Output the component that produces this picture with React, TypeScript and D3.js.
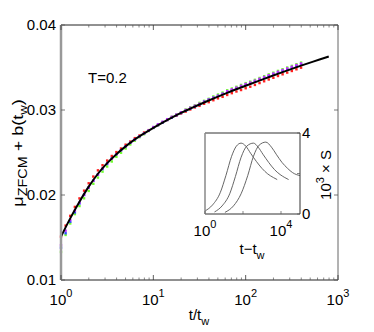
import React from "react";
import * as d3 from "d3";

// ---- main panel data ----
const T_FIT = [1, 1.259, 1.585, 1.995, 2.512, 3.162, 3.981, 5.012, 6.31, 7.943, 10, 12.59, 15.85, 19.95, 25.12, 39.81, 63.1, 100, 158.5, 251.2, 398.1, 631.0, 794.3];
const V_FIT = [0.0151, 0.01725, 0.0192, 0.02098, 0.0225, 0.02375, 0.0248, 0.02572, 0.02654, 0.02725, 0.0279, 0.02852, 0.0291, 0.02965, 0.03016, 0.03112, 0.03202, 0.03286, 0.03366, 0.03446, 0.03522, 0.03594, 0.0363];

const T_SIM = [1, 1.122, 1.259, 1.413, 1.585, 1.778, 1.995, 2.239, 2.512, 2.818, 3.162, 3.548, 3.981, 4.467, 5.012, 5.623, 6.31, 7.079, 7.943, 8.913, 10, 11.22, 12.59, 14.13, 15.85, 17.78, 19.95, 22.39, 25.12, 28.18, 31.62, 35.48, 39.81, 44.67, 50.12, 56.23, 63.1, 70.79, 79.43, 89.13, 100, 112.2, 125.9, 141.3, 158.5, 177.8, 199.5, 223.9, 251.2, 281.8, 316.2, 354.8, 398.1];

const RED = [0.0151, 0.0164, 0.01755, 0.0186, 0.0196, 0.02051, 0.02138, 0.02217, 0.0229, 0.0235, 0.02405, 0.02459, 0.02505, 0.02547, 0.02592, 0.02629, 0.02669, 0.027, 0.02735, 0.02763, 0.0279, 0.02822, 0.02852, 0.02882, 0.0291, 0.02932, 0.02959, 0.02981, 0.03006, 0.0303, 0.03049, 0.03073, 0.03092, 0.03115, 0.03137, 0.03155, 0.03177, 0.03198, 0.03218, 0.03235, 0.03256, 0.03274, 0.03295, 0.03317, 0.03338, 0.03359, 0.03379, 0.034, 0.0342, 0.0344, 0.03459, 0.03479, 0.03498];
const GREEN = [0.0133, 0.0153, 0.01665, 0.01775, 0.0187, 0.01961, 0.02048, 0.02132, 0.02205, 0.02275, 0.02335, 0.02394, 0.0245, 0.02497, 0.02547, 0.02594, 0.02639, 0.0268, 0.02715, 0.02753, 0.0279, 0.02822, 0.02857, 0.02887, 0.0292, 0.02947, 0.02974, 0.03006, 0.03031, 0.03055, 0.03084, 0.03108, 0.03132, 0.0316, 0.03182, 0.03205, 0.03232, 0.03253, 0.03273, 0.03295, 0.03316, 0.03334, 0.03355, 0.03377, 0.03398, 0.03419, 0.03439, 0.0346, 0.0348, 0.035, 0.03519, 0.03539, 0.03558];
const BLUE = [0.0138, 0.0155, 0.01685, 0.01795, 0.019, 0.02001, 0.02088, 0.02167, 0.0224, 0.02305, 0.02365, 0.02429, 0.0248, 0.02527, 0.02572, 0.02614, 0.02654, 0.0269, 0.02725, 0.02758, 0.0279, 0.02822, 0.02852, 0.02882, 0.0291, 0.02937, 0.02964, 0.02991, 0.03016, 0.0304, 0.03064, 0.03098, 0.03122, 0.03145, 0.03167, 0.0319, 0.03212, 0.03233, 0.03253, 0.03275, 0.03296, 0.03314, 0.03335, 0.03357, 0.03378, 0.03399, 0.03419, 0.0344, 0.0346, 0.0348, 0.03499, 0.03519, 0.03538];
const PURPLE = [0.0141, 0.0158, 0.01705, 0.01815, 0.0191, 0.02001, 0.02088, 0.02167, 0.0224, 0.02315, 0.02375, 0.02429, 0.0248, 0.02527, 0.02572, 0.02614, 0.02654, 0.0269, 0.02725, 0.02758, 0.028, 0.02832, 0.02862, 0.02892, 0.0292, 0.02947, 0.02974, 0.03001, 0.03026, 0.0305, 0.03074, 0.03098, 0.03122, 0.03145, 0.03167, 0.0319, 0.03222, 0.03243, 0.03263, 0.03285, 0.03306, 0.03324, 0.03345, 0.03367, 0.03388, 0.03409, 0.03429, 0.0345, 0.0347, 0.0349, 0.03509, 0.03529, 0.03548];

const SERIES = [
  { values: RED, color: "#ff2020" },
  { values: GREEN, color: "#70ff30" },
  { values: BLUE, color: "#3050ff" },
  { values: PURPLE, color: "#c030ff" },
];

const X_TICKS = [1, 10, 100, 1000];
const X_EXP = ["0", "1", "2", "3"];
const Y_TICKS = [0.01, 0.02, 0.03, 0.04];
const Y_LABELS = ["0.01", "0.02", "0.03", "0.04"];

// ---- inset data ----
const IA_T = [1, 2.51, 6.31, 12.6, 25.1, 44.7, 79.4, 141, 251, 501, 1000, 1995, 3981, 6310];
const IA_V = [0.15, 0.45, 1.05, 1.9, 2.85, 3.35, 3.5, 3.35, 3.0, 2.6, 2.25, 1.98, 1.8, 1.7];
const IB_T = [3.16, 7.94, 20.0, 39.8, 79.4, 158, 355, 631, 1122, 2239, 4467, 8913, 15850, 25120];
const IB_V = [0.1, 0.4, 1.0, 1.85, 2.8, 3.35, 3.5, 3.3, 2.95, 2.55, 2.2, 1.95, 1.8, 1.7];
const IC_T = [11.2, 31.6, 79.4, 178, 355, 708, 1585, 3162, 5623, 11220, 22390, 39810, 63100, 100000];
const IC_V = [0.08, 0.4, 1.0, 1.9, 2.85, 3.4, 3.55, 3.3, 2.95, 2.55, 2.25, 2.05, 1.95, 1.9];
const INSET_CURVES = [
  { t: IA_T, v: IA_V },
  { t: IB_T, v: IB_V },
  { t: IC_T, v: IC_V },
];
const INSET_X_LABELS = [1, 10000];
const INSET_X_EXP = ["0", "4"];
const INSET_Y_TICKS = [0, 2, 4];
const INSET_Y_LABELS = [0, 4];

const FONT = "'Liberation Sans', Arial, Helvetica, sans-serif";

export default function App() {
  const L = 61, R = 338, T = 25, B = 280;
  const x = d3.scaleLog().domain([1, 1000]).range([L, R]);
  const y = d3.scaleLinear().domain([0.01, 0.04]).range([B, T]);

  const iL = 205, iR = 300, iT = 133, iB = 214;
  const xi = d3.scaleLog().domain([1, 1e5]).range([iL, iR]);
  const yi = d3.scaleLinear().domain([0, 4]).range([iB, iT]);

  const fitLine = d3
    .line<number>()
    .x((_, i) => x(T_FIT[i]))
    .y((d) => y(d))
    .curve(d3.curveMonotoneX);

  const insetLine = (tt: number[]) =>
    d3
      .line<number>()
      .x((_, i) => xi(tt[i]))
      .y((d) => yi(d))
      .curve(d3.curveMonotoneX);

  const minor = x.ticks().filter((t) => !X_TICKS.includes(t));

  return (
    <svg
      width={374}
      height={332}
      style={{ position: "absolute", left: 0, top: 0, background: "#fff" }}
      fontFamily={FONT}
    >
      <rect x={0} y={0} width={374} height={332} fill="#fff" />

      {/* markers */}
      {SERIES.map((s, si) => (
        <g key={si} fill={s.color}>
          {s.values.map((v, i) => (
            <rect key={i} x={x(T_SIM[i]) - 1.2} y={y(v) - 1.2} width={2.4} height={2.4} />
          ))}
        </g>
      ))}

      {/* fit curve */}
      <path d={fitLine(V_FIT) || ""} fill="none" stroke="#000" strokeWidth={2} />

      {/* frame */}
      <line x1={L} x2={R} y1={T} y2={T} stroke="#222" strokeWidth={1} />
      <line x1={L} x2={R} y1={B} y2={B} stroke="#222" strokeWidth={1} />
      <line x1={L} x2={L} y1={T} y2={B} stroke="#999" strokeWidth={2.5} />
      <line x1={R} x2={R} y1={T} y2={B} stroke="#666" strokeWidth={1} />

      {/* x ticks */}
      {X_TICKS.map((t) => (
        <g key={"xt" + t} stroke="#333" strokeWidth={0.8}>
          <line x1={x(t)} x2={x(t)} y1={B} y2={B - 5} />
          <line x1={x(t)} x2={x(t)} y1={T} y2={T + 5} />
        </g>
      ))}
      {minor.map((t) => (
        <g key={"xm" + t} stroke="#555" strokeWidth={0.7}>
          <line x1={x(t)} x2={x(t)} y1={B} y2={B - 2.5} />
          <line x1={x(t)} x2={x(t)} y1={T} y2={T + 2.5} />
        </g>
      ))}
      {/* y ticks */}
      {Y_TICKS.map((t) => (
        <g key={"yt" + t} stroke="#555" strokeWidth={0.8}>
          <line x1={L} x2={L + 4} y1={y(t)} y2={y(t)} />
          <line x1={R} x2={R - 4} y1={y(t)} y2={y(t)} />
        </g>
      ))}

      {/* y tick labels */}
      {Y_TICKS.map((t, i) => (
        <text key={"yl" + t} x={56} y={y(t)} dy="0.36em" textAnchor="end" fontSize={15} fill="#000">
          {Y_LABELS[i]}
        </text>
      ))}
      {/* x tick labels */}
      {X_TICKS.map((t, i) => (
        <text key={"xl" + t} x={x(t)} y={305} textAnchor="middle" fontSize={15} fill="#000">
          <tspan>10</tspan>
          <tspan fontSize={11} dy={-8}>{X_EXP[i]}</tspan>
        </text>
      ))}

      {/* axis labels */}
      <text x={199} y={320} textAnchor="middle" fontSize={15}>
        <tspan>t/t</tspan>
        <tspan fontSize={11} dy={5}>w</tspan>
      </text>
      <text transform={`translate(23,153) rotate(-90) scale(1.2,1)`} textAnchor="middle" fontSize={15}>
        <tspan>μ</tspan>
        <tspan fontSize={12} dy={4}>ZFCM</tspan>
        <tspan dy={-4}> + b(t</tspan>
        <tspan fontSize={11} dy={4}>w</tspan>
        <tspan dy={-4}>)</tspan>
      </text>

      <text x={88} y={83} fontSize={15}>T=0.2</text>

      {/* inset */}
      <rect x={iL} y={iT} width={iR - iL} height={iB - iT} fill="#fff" stroke="none" />
      {INSET_CURVES.map((c, i) => (
        <path key={"ic" + i} d={insetLine(c.t)(c.v) || ""} fill="none" stroke="#555" strokeWidth={0.9} />
      ))}
      <line x1={iL} x2={iR} y1={iT} y2={iT} stroke="#333" strokeWidth={1} />
      <line x1={iL} x2={iR} y1={iB} y2={iB} stroke="#333" strokeWidth={1} />
      <line x1={iL} x2={iL} y1={iT} y2={iB} stroke="#888" strokeWidth={1.5} />
      <line x1={iR} x2={iR} y1={iT} y2={iB} stroke="#333" strokeWidth={1} />
      {[1, 100, 10000].map((t) => (
        <line key={"ixt" + t} x1={xi(t)} x2={xi(t)} y1={iB} y2={iB - 3} stroke="#555" strokeWidth={0.7} />
      ))}
      {INSET_Y_TICKS.map((t) => (
        <line key={"iyt" + t} x1={iR} x2={iR - 3} y1={yi(t)} y2={yi(t)} stroke="#555" strokeWidth={0.7} />
      ))}
      {INSET_Y_LABELS.map((t) => (
        <text key={"iyl" + t} x={302} y={yi(t)} dy="0.36em" fontSize={15}>
          {t}
        </text>
      ))}
      {INSET_X_LABELS.map((t, i) => (
        <text key={"ixl" + t} x={xi(t)} y={236} textAnchor="middle" fontSize={15}>
          <tspan>10</tspan>
          <tspan fontSize={11} dy={-8}>{INSET_X_EXP[i]}</tspan>
        </text>
      ))}
      <text x={252} y={254} textAnchor="middle" fontSize={15}>
        <tspan>t−t</tspan>
        <tspan fontSize={11} dy={5}>w</tspan>
      </text>
      <text transform={`translate(331,175) rotate(-90)`} textAnchor="middle" fontSize={15}>
        <tspan>10</tspan>
        <tspan fontSize={11} dy={-7}>3</tspan>
        <tspan dy={7}> × S</tspan>
      </text>
    </svg>
  );
}
